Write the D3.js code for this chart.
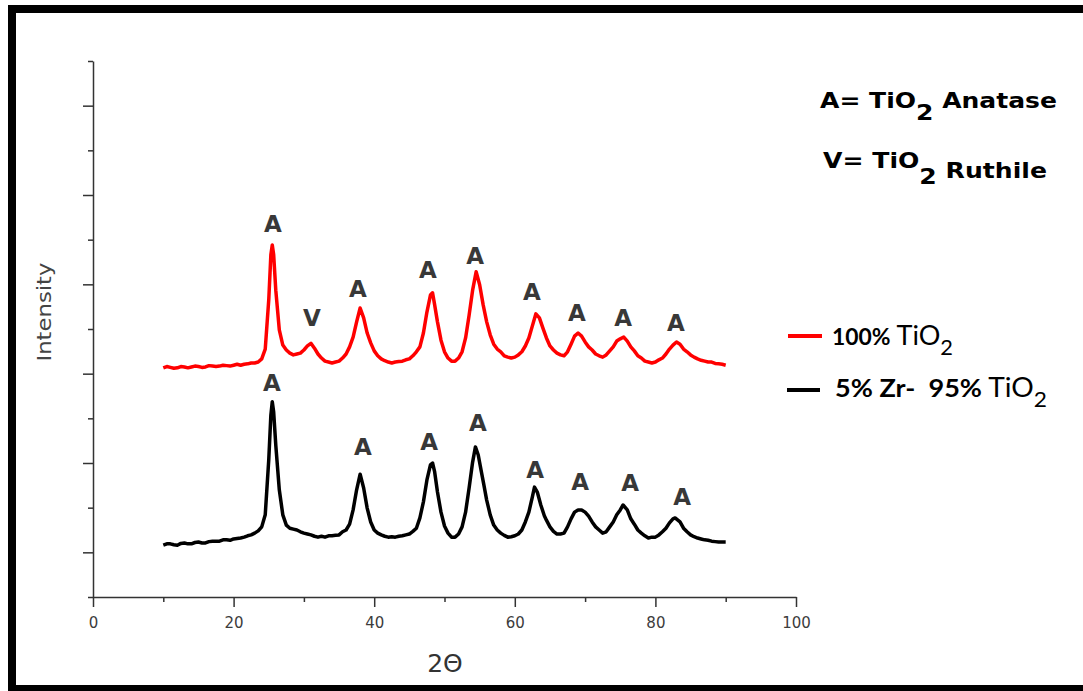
<!DOCTYPE html>
<html><head><meta charset="utf-8">
<script src="https://cdn.jsdelivr.net/npm/d3@7"></script>
<style>body{margin:0;background:#fff}svg{display:block}</style>
</head><body><svg width="1083" height="691"></svg>
<script>
// 2theta vs intensity (a.u., stacked)
const tio2Pure=[[10,513],[10.5,516],[11,514],[11.5,512],[12,513],[12.5,516],[13,515],[13.5,513],[14,515],[14.5,517],[15,516],[15.5,514],[16,515],[16.5,518],[17,517],[17.5,516],[18,517],[18.5,519],[19,518],[19.5,517],[20,519],[20.5,521],[21,519],[21.5,521],[22,522],[22.5,524],[23,524],[23.5,526],[24,533],[24.5,555],[25,665],[25.3,766],[25.5,788],[25.7,766],[26,687],[26.5,598],[27,564],[27.5,553],[28,546],[28.5,542],[29,544],[29.5,546],[30,553],[30.5,562],[31,568],[31.5,557],[32,544],[32.5,535],[33,528],[33.5,526],[34,524],[34.5,526],[35,528],[35.5,535],[36,544],[36.5,560],[37,582],[37.5,616],[38,647],[38.5,625],[39,591],[39.5,569],[40,551],[40.5,540],[41,533],[41.5,529],[42,526],[42.5,524],[43,526],[43.5,527],[44,528],[44.5,531],[45,533],[45.5,540],[46,549],[46.5,560],[47,591],[47.5,638],[48,676],[48.3,681],[48.6,654],[49,616],[49.5,575],[50,549],[50.5,535],[51,528],[51.5,528],[52,535],[52.5,549],[53,580],[53.5,631],[54,687],[54.5,728],[55,699],[55.5,654],[56,616],[56.5,587],[57,566],[57.5,555],[58,549],[58.5,540],[59,537],[59.5,535],[60,537],[60.5,542],[61,549],[61.5,562],[62,580],[62.5,607],[63,634],[63.5,625],[64,602],[64.5,580],[65,562],[65.5,553],[66,546],[66.5,542],[67,540],[67.5,549],[68,566],[68.5,584],[69,591],[69.5,584],[70,571],[70.5,560],[71,553],[71.5,544],[72,540],[72.5,537],[73,542],[73.5,551],[74,560],[74.5,573],[75,578],[75.5,582],[76,573],[76.5,560],[77,551],[77.5,540],[78,535],[78.5,528],[79,526],[79.5,524],[80,526],[80.5,531],[81,535],[81.5,544],[82,555],[82.5,564],[83,571],[83.5,566],[84,555],[84.5,549],[85,542],[85.5,537],[86,533],[86.5,530],[87,528],[87.5,526],[88,526],[88.5,523],[89,522],[89.5,521],[90,519]]
const zrDoped=[[10,116],[10.5,119],[11,119],[11.5,117],[12,116],[12.5,120],[13,121],[13.5,119],[14,119],[14.5,122],[15,123],[15.5,121],[16,121],[16.5,124],[17,125],[17.5,125],[18,125],[18.5,128],[19,128],[19.5,127],[20,130],[20.5,131],[21,132],[21.5,134],[22,137],[22.5,139],[23,143],[23.5,148],[24,157],[24.5,184],[25,307],[25.3,407],[25.5,437],[25.7,414],[26,340],[26.5,240],[27,184],[27.5,161],[28,154],[28.5,152],[29,150],[29.5,146],[30,143],[30.5,141],[31,139],[31.5,136],[32,134],[32.5,136],[33,134],[33.5,137],[34,137],[34.5,138],[35,139],[35.5,146],[36,150],[36.5,163],[37,195],[37.5,240],[38,275],[38.5,244],[39,199],[39.5,168],[40,150],[40.5,143],[41,139],[41.5,136],[42,134],[42.5,135],[43,134],[43.5,136],[44,137],[44.5,139],[45,141],[45.5,147],[46,154],[46.5,177],[47,213],[47.5,262],[48,296],[48.3,300],[48.6,280],[49,235],[49.5,190],[50,159],[50.5,143],[51,134],[51.5,134],[52,141],[52.5,157],[53,190],[53.5,244],[54,302],[54.4,336],[54.8,318],[55.2,284],[55.6,251],[56,217],[56.5,184],[57,161],[57.5,150],[58,143],[58.5,138],[59,134],[59.5,135],[60,137],[60.5,141],[61,150],[61.5,168],[62,190],[62.5,224],[62.8,246],[63.2,235],[63.7,206],[64.2,182],[64.5,172],[65,157],[65.5,147],[66,141],[66.5,141],[67,143],[67.5,157],[68,175],[68.5,190],[69,195],[69.5,195],[70,190],[70.5,181],[71,168],[71.5,157],[72,150],[72.5,143],[73,146],[73.5,157],[74,168],[74.5,184],[75,195],[75.4,206],[76,195],[76.5,175],[77,163],[77.5,150],[78,143],[78.5,137],[79,132],[79.5,134],[80,134],[80.5,139],[81,146],[81.5,154],[82,166],[82.5,175],[82.8,177],[83.5,168],[84,154],[84.5,146],[85,139],[85.5,135],[86,132],[86.5,130],[87,128],[87.5,127],[88,125],[88.5,124],[89,123],[89.5,123],[90,123]]
// phase marks: [2theta, letter, intensity]
const pureMarks=[[25.6,"A",835],[31.15,"V",625],[37.7,"A",690],[47.65,"A",732],[54.35,"A",763],[62.45,"A",683],[68.85,"A",636],[75.4,"A",625],[82.9,"A",613]]
const dopedMarks=[[25.45,"A",479],[38.4,"A",336],[47.8,"A",347],[54.75,"A",390],[62.9,"A",284],[69.3,"A",257],[76.4,"A",255],[83.8,"A",224]]
const xMajor=[0,20,40,60,80,100]
const xMinor=[10,30,50,70,90]
const yMajor=[100,300,500,700,900,1100]
const yMinor=[0,200,400,600,800,1000,1200]

const svg=d3.select("svg")
const x=d3.scaleLinear().domain([0,100]).range([93,796])
const y=d3.scaleLinear().domain([0,1200]).range([597,61])

// frame
svg.append("rect").attr("x",8).attr("y",5).attr("width",1075).attr("height",8).attr("fill","#000")
svg.append("rect").attr("x",8).attr("y",5).attr("width",8).attr("height",686).attr("fill","#000")
svg.append("rect").attr("x",8).attr("y",685).attr("width",1075).attr("height",6).attr("fill","#000")

axstyle=(g)=>{
g.selectAll("path,line").attr("stroke","#333").attr("stroke-width",1.5)
g.selectAll("text").attr("font-family","DejaVu Sans").attr("font-size",15).attr("fill","#3c3c3c")
}
svg.append("g").attr("transform","translate(0,597)").call(d3.axisBottom(x).tickValues(xMajor).tickSize(10).tickSizeOuter(0).tickPadding(10)).call(axstyle)
svg.append("g").attr("transform","translate(0,597)").call(d3.axisBottom(x).tickValues(xMinor).tickSize(5).tickFormat("")).call(axstyle).select(".domain").remove()
svg.append("g").attr("transform","translate(93,0)").call(d3.axisLeft(y).tickValues(yMajor).tickSize(10).tickSizeOuter(0).tickFormat("")).call(axstyle)
svg.append("g").attr("transform","translate(93,0)").call(d3.axisLeft(y).tickValues(yMinor).tickSize(5).tickFormat("")).call(axstyle).select(".domain").remove()

svg.append("text").attr("transform","translate(51,312) rotate(-90)").attr("text-anchor","middle")
.attr("font-family","DejaVu Sans").attr("font-size",20).attr("fill","#444").attr("textLength",99).attr("lengthAdjust","spacingAndGlyphs").text("Intensity")
svg.append("text").attr("x",445).attr("y",672).attr("text-anchor","middle")
.attr("font-family","DejaVu Sans").attr("font-size",25).attr("fill","#333").text("2Θ")

const line=d3.line().x(d=>x(d[0])).y(d=>y(d[1]))
svg.append("path").datum(zrDoped).attr("d",line).attr("fill","none").attr("stroke","#000").attr("stroke-width",3.5).attr("stroke-linejoin","round")
svg.append("path").datum(tio2Pure).attr("d",line).attr("fill","none").attr("stroke","#f00").attr("stroke-width",3.5).attr("stroke-linejoin","round")

svg.selectAll(".mark").data(pureMarks.concat(dopedMarks)).join("text").attr("class","mark")
.attr("x",d=>x(d[0])).attr("y",d=>y(d[2])).attr("dy","0.36em").attr("text-anchor","middle")
.attr("font-family","DejaVu Sans").attr("font-weight","bold").attr("font-size",23).attr("fill","#383838").text(d=>d[1])

// phase key
let k1=svg.append("text").attr("x",820).attr("y",108).attr("font-family","DejaVu Sans").attr("font-weight","bold").attr("font-size",22)
.attr("textLength",237).attr("lengthAdjust","spacingAndGlyphs")
k1.append("tspan").text("A= TiO")
k1.append("tspan").attr("dy",12).text("2")
k1.append("tspan").attr("dy",-12).text(" Anatase")
let k2=svg.append("text").attr("x",823).attr("y",168).attr("font-family","DejaVu Sans").attr("font-weight","bold").attr("font-size",22)
.attr("textLength",224).attr("lengthAdjust","spacingAndGlyphs")
k2.append("tspan").text("V= TiO")
k2.append("tspan").attr("dy",16).text("2")
k2.append("tspan").attr("dy",-6).text(" Ruthile")

// series legend
svg.append("line").attr("x1",788).attr("x2",822).attr("y1",336).attr("y2",336).attr("stroke","#f00").attr("stroke-width",4)
svg.append("line").attr("x1",787).attr("x2",820).attr("y1",390).attr("y2",390).attr("stroke","#000").attr("stroke-width",4)
let l1=svg.append("text").attr("x",832).attr("y",345).attr("font-family","Lato").attr("fill","#000")
.attr("textLength",121).attr("lengthAdjust","spacingAndGlyphs")
l1.append("tspan").attr("font-weight","bold").attr("font-size",22).text("100%")
l1.append("tspan").attr("font-size",26).text(" TiO")
l1.append("tspan").attr("font-size",21).attr("dy",10).text("2")
let l2=svg.append("text").attr("x",835).attr("y",397).attr("font-family","Lato").attr("fill","#000")
.attr("textLength",212).attr("lengthAdjust","spacingAndGlyphs")
l2.append("tspan").attr("font-weight","bold").attr("font-size",25).text("5% Zr-\u00a0 95%")
l2.append("tspan").attr("font-size",26).text(" TiO")
l2.append("tspan").attr("font-size",21).attr("dy",10).text("2")
</script></body></html>
